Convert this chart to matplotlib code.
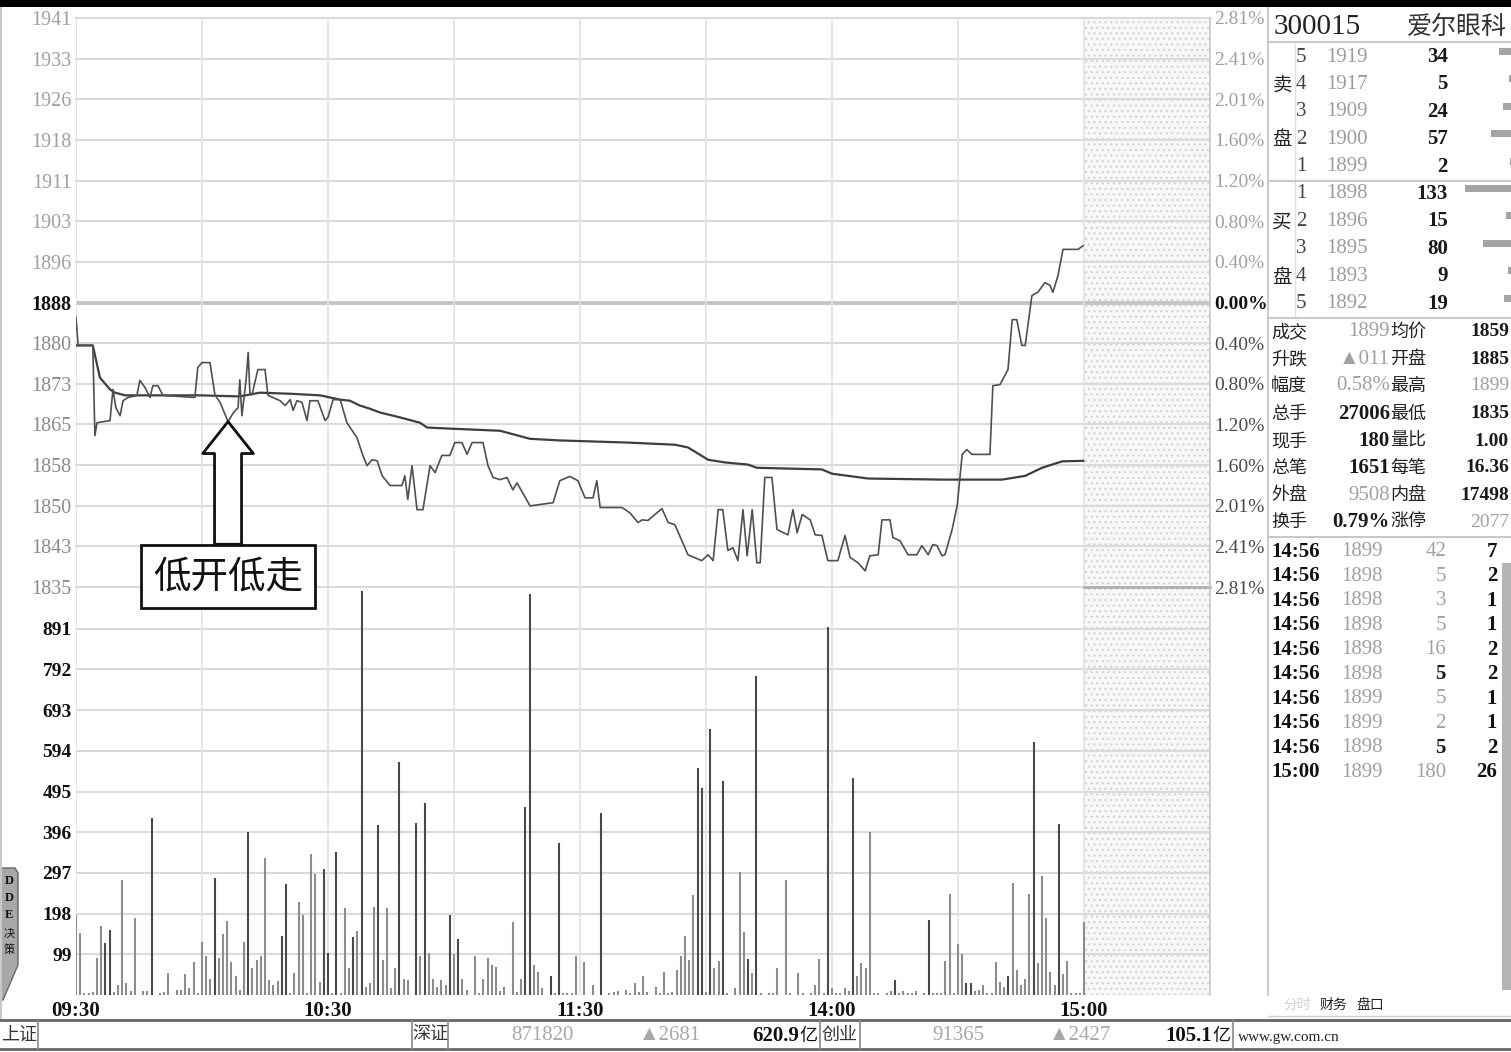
import matplotlib
matplotlib.use("Agg")
import matplotlib.pyplot as plt
from matplotlib.patches import Rectangle, Polygon
from matplotlib.lines import Line2D
import numpy as np

# ---------------- data ----------------
prev_close = 1888
price_labels = ["1941", "1933", "1926", "1918", "1911", "1903", "1896", "1888",
                "1880", "1873", "1865", "1858", "1850", "1843", "1835"]
pct_labels = ["2.81%", "2.41%", "2.01%", "1.60%", "1.20%", "0.80%", "0.40%", "0.00%",
              "0.40%", "0.80%", "1.20%", "1.60%", "2.01%", "2.41%", "2.81%"]
vol_ticks = [99, 198, 297, 396, 495, 594, 693, 792, 891]
time_ticks = [0, 60, 120, 180, 240]
time_labels = ["09:30", "10:30", "11:30", "14:00", "15:00"]

price_min = [0, 0.5, 4, 4.5, 5, 8.1, 8.8, 9.5, 10.5, 11.2,
             12.4, 14.5, 15.2, 16.4, 17.6, 18.3, 19.5, 20.7, 28.3, 29,
             30, 31.9, 33.1, 34.3, 36.2, 37.5, 38.6, 39, 39.5, 40.5,
             41, 41.4, 41.9, 43.3, 45, 45.7, 48.6, 49.8, 51, 51.7,
             52.6, 53.8, 55, 55.7, 57.6, 59.3, 60, 61.2, 62.9, 64.5,
             66.9, 68.3, 69.3, 70.5, 71.7, 72.9, 74.8, 77.6, 78.3, 79,
             80, 81.2, 82.6, 84.3, 85.5, 87.1, 89, 90.2, 91.9, 93.1,
             94.3, 96.9, 98.1, 99.3, 101, 102.6, 104, 105, 108.1, 113.6,
             115.2, 117.6, 119.5, 121.2, 123.1, 124, 124.8, 130, 131.9, 133.8,
             134.8, 136.2, 139.5, 141, 142.6, 145.7, 149, 150.5, 151.7, 152.9,
             154, 155.2, 156.4, 157.6, 158.8, 159.8, 161, 162.1, 162.9, 164,
             165.7, 166.9, 169.5, 170.7, 171.7, 172.9, 174.8, 176, 177.6, 179,
             181.4, 183.1, 184.3, 186.2, 187.9, 189, 191, 191.9, 193.8, 194.5,
             196.2, 198.1, 200.2, 201.4, 202.9, 204, 205, 206.2, 206.9, 208.6,
             209.8, 211, 212.1, 213.3, 217.6, 218.3, 220, 221.9, 222.9, 224,
             225.2, 226, 227.6, 229, 230.7, 231.9, 232.6, 233.8, 235, 238.6,
             239.8]
price_val = [1885.2, 1880.0, 1880.0, 1863.2, 1865.6, 1866.0, 1871.8, 1868.4, 1866.9, 1869.7,
             1870.3, 1870.7, 1873.5, 1872.2, 1870.3, 1872.5, 1872.5, 1870.7, 1870.3, 1875.9,
             1876.8, 1876.8, 1870.7, 1869.4, 1865.8, 1867.5, 1868.4, 1873.6, 1866.9, 1873.6,
             1878.7, 1871.2, 1870.8, 1875.5, 1875.5, 1870.7, 1869.7, 1868.8, 1869.9, 1867.9,
             1869.7, 1869.4, 1866.0, 1869.7, 1869.7, 1866.0, 1866.6, 1869.9, 1869.9, 1865.6,
             1862.8, 1859.5, 1857.6, 1858.7, 1858.5, 1855.7, 1853.9, 1853.9, 1855.7, 1851.3,
             1857.6, 1849.4, 1849.4, 1857.6, 1856.3, 1859.5, 1859.5, 1861.9, 1861.9, 1859.7,
             1861.9, 1861.9, 1857.6, 1855.4, 1855.0, 1855.4, 1853.1, 1854.4, 1850.1, 1850.7,
             1854.8, 1855.6, 1854.8, 1851.6, 1851.6, 1854.8, 1849.8, 1849.8, 1848.8, 1847.0,
             1847.5, 1847.4, 1849.6, 1847.0, 1846.6, 1841.0, 1839.9, 1841.0, 1839.9, 1849.4,
             1849.4, 1841.8, 1842.3, 1839.9, 1849.4, 1840.8, 1849.4, 1839.5, 1839.5, 1855.4,
             1855.4, 1845.7, 1844.7, 1849.4, 1845.1, 1848.5, 1847.5, 1844.7, 1844.6, 1839.9,
             1839.9, 1844.6, 1840.5, 1839.5, 1838.0, 1840.8, 1841.0, 1847.5, 1847.5, 1844.2,
             1843.6, 1841.0, 1841.0, 1842.7, 1841.0, 1842.9, 1842.7, 1840.8, 1841.0, 1845.7,
             1850.1, 1859.7, 1860.6, 1859.7, 1859.7, 1872.5, 1872.7, 1875.5, 1884.8, 1884.8,
             1880.0, 1880.0, 1889.3, 1889.9, 1891.7, 1891.2, 1889.9, 1893.0, 1897.9, 1897.9,
             1898.6]

avg_min = [0, 4, 5.7, 8.1, 9.3, 11.7, 29.5, 39, 43.8, 51,
           58.1, 62.9, 65.2, 67.6, 70, 72.4, 77.1, 81.9, 83.6, 89,
           101, 108.1, 115.2, 131.4, 142.6, 145.7, 150.5, 154.5, 160, 162.1,
           177.6, 180, 188.6, 206.2, 220.5, 226, 230, 234.8, 239.8]
avg_val = [1880.0, 1880.0, 1874.0, 1871.8, 1871.2, 1870.7, 1870.7, 1870.5, 1871.2, 1871.0,
           1870.7, 1869.9, 1869.7, 1868.8, 1868.2, 1867.5, 1866.6, 1865.6, 1864.7, 1864.5,
           1864.1, 1862.6, 1862.3, 1861.9, 1861.5, 1861.0, 1858.7, 1858.2, 1857.8, 1857.2,
           1856.9, 1856.1, 1855.2, 1855.0, 1855.0, 1855.7, 1857.2, 1858.4, 1858.5]

# volume per minute, minute 0 .. 240
volume = [195, 150, 6, 4, 8, 89, 169, 126, 158, 8,
          24, 280, 28, 10, 188, 0, 10, 10, 430, 0,
          4, 8, 53, 0, 12, 12, 50, 16, 81, 4,
          128, 96, 40, 284, 89, 148, 180, 81, 47, 12,
          128, 396, 65, 85, 96, 334, 36, 24, 34, 144,
          269, 6, 53, 227, 195, 6, 342, 294, 31, 307,
          101, 6, 347, 6, 211, 65, 140, 156, 983, 20,
          28, 215, 414, 85, 211, 16, 65, 566, 39, 36,
          0, 418, 96, 466, 101, 39, 20, 36, 24, 195,
          99, 136, 40, 12, 0, 96, 4, 39, 91, 73,
          69, 10, 20, 0, 178, 8, 40, 458, 975, 73,
          57, 16, 0, 47, 6, 369, 6, 4, 6, 96,
          0, 81, 0, 24, 0, 442, 0, 4, 8, 10,
          0, 12, 4, 28, 8, 47, 8, 0, 20, 4,
          57, 4, 8, 61, 96, 144, 85, 243, 551, 503,
          8, 647, 65, 83, 521, 4, 0, 16, 300, 154,
          88, 53, 775, 4, 0, 4, 4, 65, 0, 280,
          4, 0, 53, 4, 0, 4, 24, 88, 6, 894,
          16, 6, 4, 16, 10, 529, 47, 77, 65, 397,
          4, 4, 0, 4, 10, 36, 6, 10, 4, 6,
          10, 0, 4, 182, 4, 4, 4, 83, 245, 4,
          123, 99, 28, 28, 10, 12, 24, 4, 4, 80,
          31, 20, 47, 272, 61, 24, 39, 245, 615, 77,
          290, 188, 57, 24, 415, 50, 83, 4, 4, 4,
          177]
dark_minutes = [7, 8, 18, 33, 41, 49, 50, 59, 60, 62, 66, 68, 72, 77, 81, 83, 89, 91,
                107, 108, 113, 115, 125, 148, 149, 151, 154, 160, 162, 179, 185, 195,
                203, 212, 213, 222, 228, 234]

stock_code = "300015"
stock_name = "爱尔眼科"
sell_level = ["5", "4", "3", "2", "1"]
sell_price = ["1919", "1917", "1909", "1900", "1899"]
sell_vol = [34, 5, 24, 57, 2]
buy_level = ["1", "2", "3", "4", "5"]
buy_price = ["1898", "1896", "1895", "1893", "1892"]
buy_vol = [133, 15, 80, 9, 19]

stat_label1 = ["成交", "升跌", "幅度", "总手", "现手", "总笔", "外盘", "换手"]
stat_value1 = ["1899", "▲011", "0.58%", "27006", "180", "1651", "9508", "0.79%"]
stat_gray1 = [True, True, True, False, False, False, True, False]
stat_label2 = ["均价", "开盘", "最高", "最低", "量比", "每笔", "内盘", "涨停"]
stat_value2 = ["1859", "1885", "1899", "1835", "1.00", "16.36", "17498", "2077"]
stat_gray2 = [False, False, True, False, False, False, False, True]

tick_time = ["14:56"] * 9 + ["15:00"]
tick_price = ["1899", "1898", "1898", "1898", "1898", "1898", "1899", "1899", "1898", "1899"]
tick_vol = ["42", "5", "3", "5", "16", "5", "5", "2", "5", "180"]
tick_vol_gray = [True, True, True, True, True, False, True, True, False, True]
tick_count = ["7", "2", "1", "1", "2", "2", "1", "1", "2", "26"]

# ---------------- figure helpers ----------------
W, H = 1511, 1052
fig = plt.figure(figsize=(W / 100, H / 100), dpi=100)
fig.patch.set_facecolor("white")

SERIF = ["Liberation Serif", "DejaVu Sans"]
CJK = ["Noto Sans CJK SC", "DejaVu Sans"]


def fx(x):
    return x / W


def fy(y):
    return 1 - y / H


def T(x, y, s, size=15, color="#222222", ha="left", va="center", weight="normal", family=SERIF):
    fig.text(fx(x), fy(y), s, fontsize=size, color=color, ha=ha, va=va,
             fontweight=weight, family=family)


def R(x0, y0, x1, y1, **kw):
    fig.add_artist(Rectangle((fx(x0), fy(y1)), (x1 - x0) / W, (y1 - y0) / H,
                             transform=fig.transFigure, **kw))


def L(x0, y0, x1, y1, **kw):
    fig.add_artist(Line2D([fx(x0), fx(x1)], [fy(y0), fy(y1)], transform=fig.transFigure, **kw))


X0, X1 = 76, 1210
M_END = (X1 - X0) / 4.2
step = prev_close * 0.004011
p_lo, p_hi = prev_close - 7 * step, prev_close + 7 * step
levels = np.linspace(p_hi, p_lo, 15)
V_TOP = 408 / 40.7 * 99

GRID = "#dadada"

# ---------------- volume axes ----------------
ax_v = fig.add_axes([fx(X0), fy(995), (X1 - X0) / W, (995 - 587) / H])
ax_v.set_xlim(0, M_END)
ax_v.set_ylim(0, V_TOP)
for v in vol_ticks:
    ax_v.axhline(v, color=GRID, lw=1.5, zorder=1)
for m in range(30, 241, 30):
    ax_v.axvline(m, color="#e2e2e2", lw=1.2, zorder=1)
ax_v.axvline(0, color="#e2e2e2", lw=1.2, zorder=1)
ax_v.add_patch(Rectangle((240, 0), M_END - 240, V_TOP, facecolor="#f8f8f8",
                         edgecolor="#d6d6d6", hatch="...", lw=0, zorder=0.5))
mins = np.arange(len(volume))
cols = ["#4a4a4a" if m in dark_minutes else "#8c8c8c" for m in mins]
ax_v.vlines(mins, 0, volume, colors=cols, lw=1.5, zorder=3)
ax_v.set_yticks(vol_ticks)
ax_v.set_yticklabels([str(v) for v in vol_ticks], fontsize=14, fontweight="bold",
                     family=SERIF, color="#111111")
ax_v.set_xticks(time_ticks)
ax_v.set_xticklabels(time_labels, fontsize=15, fontweight="bold", family=SERIF, color="#111111")
ax_v.tick_params(length=0, pad=3)
ax_v.tick_params(axis="x", pad=4)
for s in ["top", "left", "bottom"]:
    ax_v.spines[s].set_visible(False)
ax_v.spines["right"].set_color("#c8c8c8")
ax_v.spines["right"].set_linewidth(1.2)

# ---------------- price axes ----------------
ax_p = fig.add_axes([fx(X0), fy(587), (X1 - X0) / W, (587 - 18) / H])
ax_p.set_facecolor("none")
ax_p.set_xlim(0, M_END)
ax_p.set_ylim(p_lo, p_hi)
for i, lv in enumerate(levels):
    if i == 7:
        ax_p.axhline(lv, color="#c4c4c4", lw=2.8, zorder=1)
    else:
        ax_p.axhline(lv, color=GRID, lw=1.5, zorder=1, clip_on=False)
ax_p.plot([240, M_END], [p_lo, p_lo], color="#aaaaaa", lw=1.8, zorder=2, clip_on=False)
for m in range(30, 241, 30):
    ax_p.axvline(m, color="#e2e2e2", lw=1.2, zorder=1)
ax_p.axvline(0, color="#e2e2e2", lw=1.2, zorder=1)
ax_p.add_patch(Rectangle((240, p_lo), M_END - 240, p_hi - p_lo, facecolor="#f8f8f8",
                         edgecolor="#d6d6d6", hatch="...", lw=0, zorder=0.5))
ax_p.plot(avg_min, avg_val, color="#3e3e3e", lw=1.6, zorder=4)
ax_p.plot(price_min, price_val, color="#4f4f4f", lw=1.2, zorder=5)

ax_p.set_xticks([])
ax_p.set_yticks(levels)
ax_p.set_yticklabels(price_labels, fontsize=14.5, family=SERIF)
for i, t in enumerate(ax_p.get_yticklabels()):
    if i == 7:
        t.set_color("#111111")
        t.set_fontweight("bold")
    elif i < 7:
        t.set_color("#a0a0a0")
    else:
        t.set_color("#8a8a8a")
ax_p.tick_params(length=0, pad=3)
for s in ["top", "left", "bottom"]:
    ax_p.spines[s].set_visible(False)
ax_p.spines["right"].set_color("#c8c8c8")
ax_p.spines["right"].set_linewidth(1.2)

ax_r = ax_p.twinx()
ax_r.set_ylim(p_lo, p_hi)
ax_r.set_yticks(levels)
ax_r.set_yticklabels(pct_labels, fontsize=14, family=SERIF)
for i, t in enumerate(ax_r.get_yticklabels()):
    if i == 7:
        t.set_color("#111111")
        t.set_fontweight("bold")
    elif i < 7:
        t.set_color("#a0a0a0")
    else:
        t.set_color("#4a4a4a")
ax_r.tick_params(length=0, pad=3)
for s in ax_r.spines.values():
    s.set_visible(False)

# annotation
tip = 24
ax_p.annotate("低开低走", xy=(price_min[tip], price_val[tip]), xytext=(price_min[tip], 1836.9),
              fontsize=27, family=CJK, color="#111111", ha="center", va="center",
              annotation_clip=False, zorder=10,
              bbox=dict(boxstyle="square,pad=0.32", fc="white", ec="#111111", lw=2),
              arrowprops=dict(arrowstyle="simple,head_length=0.85,head_width=1.35,tail_width=0.72",
                              fc="white", ec="#111111", lw=2, shrinkA=0, shrinkB=0))

# ---------------- frame decorations ----------------
R(0, 0, W, 7, facecolor="black", edgecolor="none")
L(1, 8, 1, 1020, color="#c8c8c8", lw=1.5)
L(1268, 8, 1268, 995, color="#c0c0c0", lw=1.2)
# DDE tab
fig.add_artist(Polygon([[fx(0), fy(868)], [fx(15), fy(868)], [fx(18), fy(873)],
                        [fx(18), fy(965)], [fx(3), fy(1000)], [fx(0), fy(1000)]],
                       closed=True, transform=fig.transFigure, facecolor="#a8a8a8",
                       edgecolor="#666666", lw=1))
for k, ch in enumerate(["D", "D", "E"]):
    T(9, 881 + 17 * k, ch, size=9, color="#111111", ha="center", weight="bold", family=SERIF)
T(9, 934, "决", size=8, color="#111111", ha="center", family=CJK)
T(9, 950, "策", size=8, color="#111111", ha="center", family=CJK)

# ---------------- right panel ----------------
T(1274, 27, stock_code, size=21, color="#222222")
T(1507, 27, stock_name, size=18, color="#333333", ha="right", family=CJK)
L(1268, 42, W, 42, color="#c8c8c8", lw=1.5)
L(1295, 44, 1295, 316, color="#e0e0e0", lw=1)
L(1268, 181, W, 181, color="#c8c8c8", lw=1.5)
L(1268, 318, W, 318, color="#c8c8c8", lw=1.5)
L(1268, 537, W, 537, color="#c8c8c8", lw=1.5)

row_y = [57 + 27.4 * r for r in range(10)]
T(1282, 85, "卖", size=14, color="#222222", ha="center", family=CJK)
T(1282, 140, "盘", size=14, color="#222222", ha="center", family=CJK)
T(1282, 222, "买", size=14, color="#222222", ha="center", family=CJK)
T(1282, 277, "盘", size=14, color="#222222", ha="center", family=CJK)
levels_ob = sell_level + buy_level
prices_ob = sell_price + buy_price
vols_ob = sell_vol + buy_vol
for r in range(10):
    T(1301, row_y[r], levels_ob[r], size=15, color="#444444", ha="center")
    T(1326, row_y[r], prices_ob[r], size=15, color="#9c9c9c")
    T(1448, row_y[r], str(vols_ob[r]), size=15, color="#1a1a1a", ha="right", weight="bold")

ax_ob = fig.add_axes([fx(1462), fy(320), (W - 1462) / W, (320 - 40) / H])
ax_ob.barh(range(10), vols_ob, height=0.26, color="#a4a4a4")
ax_ob.set_xlim(141.6, 0)
ax_ob.set_ylim(9.80, -0.42)
ax_ob.axis("off")

stat_y = [332, 359, 386, 414, 441, 468, 495, 522]
for i in range(8):
    T(1271, stat_y[i], stat_label1[i], size=13, color="#222222", family=CJK)
    T(1390, stat_y[i], stat_value1[i], size=15, ha="right",
      color="#a0a0a0" if stat_gray1[i] else "#1a1a1a",
      weight="normal" if stat_gray1[i] else "bold")
    T(1390, stat_y[i], stat_label2[i], size=13, color="#222222", family=CJK)
    T(1509, stat_y[i], stat_value2[i], size=14, ha="right",
      color="#a0a0a0" if stat_gray2[i] else "#1a1a1a",
      weight="normal" if stat_gray2[i] else "bold")

tick_y = [552 + 24.45 * i for i in range(10)]
for i in range(10):
    T(1271, tick_y[i], tick_time[i], size=15, color="#111111", weight="bold")
    T(1341, tick_y[i], tick_price[i], size=15, color="#a0a0a0")
    T(1446, tick_y[i], tick_vol[i], size=15, ha="right",
      color="#a0a0a0" if tick_vol_gray[i] else "#1a1a1a",
      weight="normal" if tick_vol_gray[i] else "bold")
    T(1497, tick_y[i], tick_count[i], size=15, ha="right", color="#111111", weight="bold")
R(1502, 563, W, 990, facecolor="#b4b4b4", edgecolor="none")

# bottom-right tabs
L(1268, 1016, W, 1016, color="#d0d0d0", lw=1)
T(1297, 1005, "分时", size=10, color="#d0d0d0", ha="center", family=CJK)
T(1333, 1005, "财务", size=10, color="#222222", ha="center", family=CJK)
T(1370, 1005, "盘口", size=10, color="#222222", ha="center", family=CJK)

# ---------------- bottom strip ----------------
L(0, 1020, W, 1020, color="#666666", lw=2)
L(0, 1049, W, 1049, color="#666666", lw=2)
for xs in [38, 412, 448, 820, 860, 1233]:
    L(xs, 1020, xs, 1049, color="#888888", lw=1.2)
T(19, 1035, "上证", size=13, color="#333333", ha="center", family=CJK)
T(430, 1035, "深证", size=13, color="#333333", ha="center", family=CJK)
T(542, 1036, "871820", size=15, color="#a8a8a8", ha="center")
T(670, 1036, "▲2681", size=15, color="#a8a8a8", ha="center")
T(799, 1036, "620.9", size=15, color="#111111", ha="right", weight="bold")
T(799, 1036, "亿", size=13, color="#111111", ha="left", family=CJK)
T(840, 1035, "创业", size=13, color="#333333", ha="center", family=CJK)
T(958, 1036, "91365", size=15, color="#a8a8a8", ha="center")
T(1080, 1036, "▲2427", size=15, color="#a8a8a8", ha="center")
T(1212, 1036, "105.1", size=15, color="#111111", ha="right", weight="bold")
T(1212, 1036, "亿", size=13, color="#111111", ha="left", family=CJK)
T(1238, 1037, "www.gw.com.cn", size=11, color="#222222", ha="left")

fig.savefig("out.png", dpi=100, facecolor="white")
